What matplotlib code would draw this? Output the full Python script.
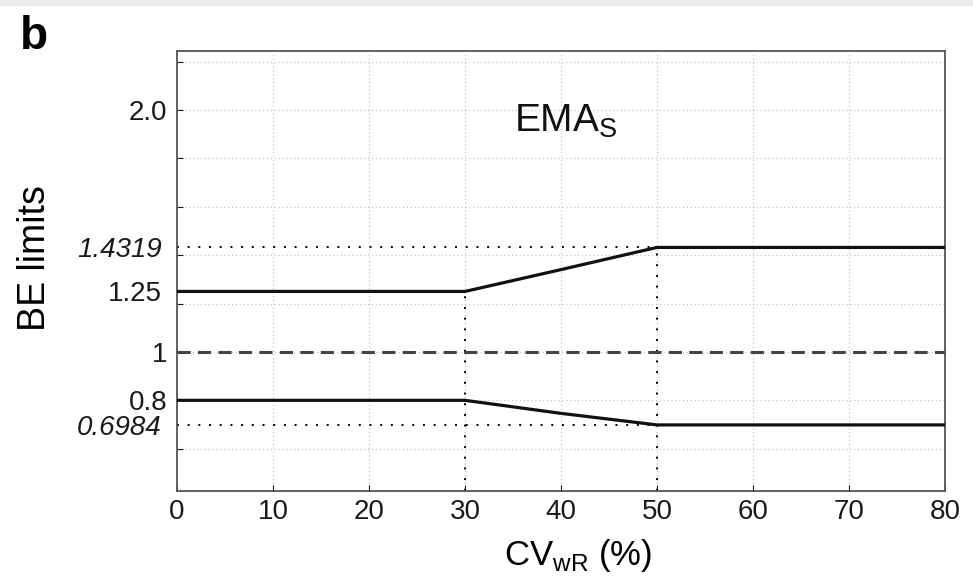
import numpy as np
import matplotlib.pyplot as plt

plt.rcParams['font.family'] = ['Liberation Sans', 'DejaVu Sans']

# BE limits vs within-subject CV (EMA scaled)
cv = [0, 30, 40, 50, 80]
upper = [1.25, 1.25, 1.3402, 1.4319, 1.4319]
lower = [0.8, 0.8, 0.7462, 0.6984, 0.6984]
ref_level = 1.0
cv_kinks = [30, 50]
cap_upper = 1.4319
cap_lower = 0.6984

xticks = [0, 10, 20, 30, 40, 50, 60, 70, 80]
grid_y = [0.6, 0.8, 1.0, 1.2, 1.4, 1.6, 1.8, 2.0, 2.2]
grid_labels = ['', '0.8', '1', '', '', '', '', '2.0', '']
extra_y = [0.6984, 1.25, 1.4319]
extra_labels = ['0.6984', '1.25', '1.4319']

fig = plt.figure(figsize=(9.73, 5.86), dpi=100)
ax = fig.add_axes([0.182, 0.162, 0.789, 0.7515])

# light scan strip at top of the original figure
fig.patches.append(plt.Rectangle((0, 0.991), 1, 0.009, transform=fig.transFigure,
                                 color='#ebebeb', zorder=0))

dots = (0, (1, 4.5))
ax.axhline(ref_level, color='#444444', lw=2.2, ls=(0, (4.3, 2.4)), zorder=3)
ax.plot([0, cv_kinks[1]], [cap_upper, cap_upper], color='black', lw=1.4, ls=dots, zorder=2)
ax.plot([0, cv_kinks[1]], [cap_lower, cap_lower], color='black', lw=1.4, ls=dots, zorder=2)
ax.plot([cv_kinks[0], cv_kinks[0]], [0, upper[1]], color='black', lw=1.4, ls=dots, zorder=2)
ax.plot([cv_kinks[1], cv_kinks[1]], [0, upper[3]], color='black', lw=1.4, ls=dots, zorder=2)

ax.plot(cv, upper, color='#111111', lw=2.3, zorder=4)
ax.plot(cv, lower, color='#111111', lw=2.3, zorder=4)

ax.set_xlim(0, 80)
ax.set_ylim(0.425, 2.245)
ax.set_xticks(xticks)
ax.set_yticks(grid_y)
ax.set_yticklabels(grid_labels)
ax.set_yticks(extra_y, minor=True)
ax.set_yticklabels(extra_labels, minor=True)
for lbl in ax.get_yticklabels(minor=True):
    if lbl.get_text() != '1.25':
        lbl.set_style('italic')

ax.tick_params(axis='both', which='major', direction='in', length=4, width=0.8,
               labelsize=20, colors='#1a1a1a', pad=7)
ax.tick_params(axis='x', which='major', pad=6)
ax.tick_params(axis='y', which='minor', length=0, labelsize=20, colors='#1a1a1a', pad=11)
ax.grid(True, which='major', color='#bbbbbb', lw=0.8, ls=(0, (1, 2.5)))

for s in ax.spines.values():
    s.set_color('#555555')
    s.set_linewidth(1.3)

ax.text(40.5, 1.955, 'EMA$_\\mathregular{S}$', fontsize=28, ha='center', va='center', color='#111111')

ax.set_ylabel('BE limits', fontsize=27)
ax.yaxis.set_label_coords(-0.162, 0.53)
ax.set_xlabel('CV$_\\mathregular{wR}$ (%)', fontsize=25)
ax.xaxis.set_label_coords(0.522, -0.105)
ax.xaxis.label.set_va('top')
fig.text(0.02, 0.975, 'b', fontsize=33, fontweight='bold', va='top')

fig.savefig('out.png', dpi=100)
